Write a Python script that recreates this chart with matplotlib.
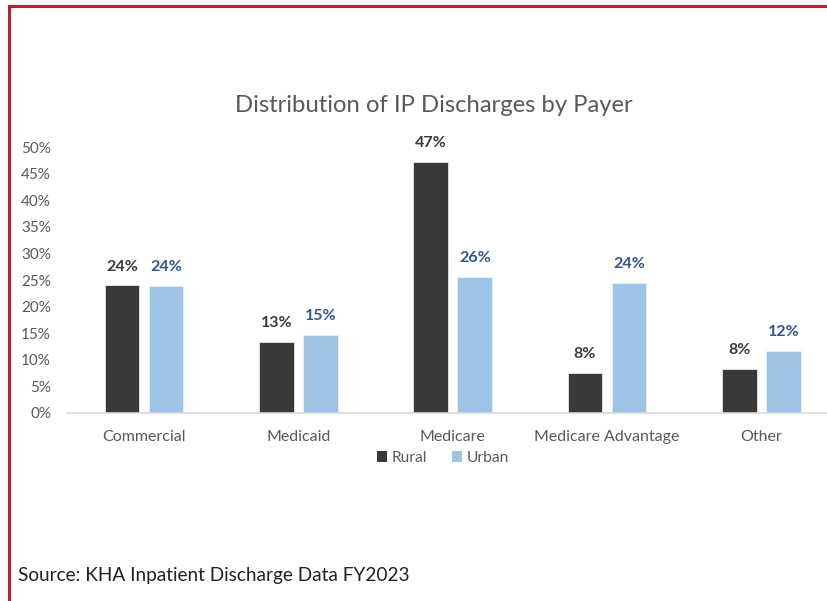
import matplotlib
matplotlib.use("Agg")
import matplotlib.pyplot as plt
from matplotlib.lines import Line2D
from matplotlib.patches import Patch
import numpy as np

categories = ["Commercial", "Medicaid", "Medicare", "Medicare Advantage", "Other"]
rural = [24.0, 13.3, 47.2, 7.5, 8.3]
urban = [23.9, 14.6, 25.6, 24.4, 11.6]
rural_labels = ["24%", "13%", "47%", "8%", "8%"]
urban_labels = ["24%", "15%", "26%", "24%", "12%"]
yticks = [0, 5, 10, 15, 20, 25, 30, 35, 40, 45, 50]

FONT = ["Lato", "DejaVu Sans"]
plt.rcParams['font.family'] = FONT

W, H = 827, 601
fig = plt.figure(figsize=(W / 100, H / 100), dpi=100)

dark = "#3A3938"
light = "#9DC3E6"
gray = "#595959"
blue_txt = "#2F5597"

ax = fig.add_axes([67 / W, (H - 412.7) / H, (W - 67) / W, (412.7 - 147.3) / H])
x = np.arange(len(categories))
bw = 0.224
off = 0.1426
b1 = ax.bar(x - off, rural, bw, color=dark, edgecolor="#e8e8e8", linewidth=0.6, zorder=2)
b2 = ax.bar(x + off, urban, bw, color=light, edgecolor="#e8f0f8", linewidth=0.6, zorder=2)

for rect, lab in zip(b1, rural_labels):
    ax.annotate(lab, (rect.get_x() + rect.get_width() / 2, rect.get_height()),
                xytext=(0, 8.5), textcoords="offset points", ha="center", va="bottom",
                fontsize=11.5, fontweight="bold", color=dark)
for rect, lab in zip(b2, urban_labels):
    ax.annotate(lab, (rect.get_x() + rect.get_width() / 2, rect.get_height()),
                xytext=(0, 8.5), textcoords="offset points", ha="center", va="bottom",
                fontsize=11.5, fontweight="bold", color=blue_txt)

ax.set_xlim(-0.5, (W - 67) / 154.3 - 0.5)
ax.set_ylim(0, 50)
ax.set_yticks(yticks)
ax.set_yticklabels([f"{v}%" for v in yticks], color=gray, fontsize=11)
ax.set_xticks(x)
ax.set_xticklabels(categories, color=gray, fontsize=11.5)
ax.tick_params(axis="both", length=0)
ax.tick_params(axis="y", pad=11.5)
ax.tick_params(axis="x", pad=12.5)
for s in ["top", "right", "left"]:
    ax.spines[s].set_visible(False)
ax.spines["bottom"].set_color("#d9d9d9")
ax.spines["bottom"].set_linewidth(1.2)
ax.set_facecolor("none")

fig.text(433.5 / W, (H - 105) / H, "Distribution of IP Discharges by Payer",
         ha="center", va="center", fontsize=17.2, color=gray)

handles = [Patch(facecolor=dark, label="Rural"), Patch(facecolor=light, label="Urban")]
fig.legend(handles=handles, loc="center", bbox_to_anchor=(443 / W, (H - 458) / H), ncol=2,
           frameon=False, fontsize=11.2, labelcolor=gray, handlelength=0.65, handleheight=0.65,
           handletextpad=0.3, columnspacing=1.6)

fig.text(18 / W, (H - 575) / H, "Source: KHA Inpatient Discharge Data FY2023",
         ha="left", va="center", fontsize=13.7, color="#222222")

red = "#C0202C"
fig.add_artist(Line2D([9 / W, 1.0], [(H - 6) / H, (H - 6) / H], color=red, linewidth=2.2))
fig.add_artist(Line2D([9 / W, 9 / W], [0, (H - 6) / H], color=red, linewidth=2.2))

fig.savefig("out.png", dpi=100, facecolor="white")
